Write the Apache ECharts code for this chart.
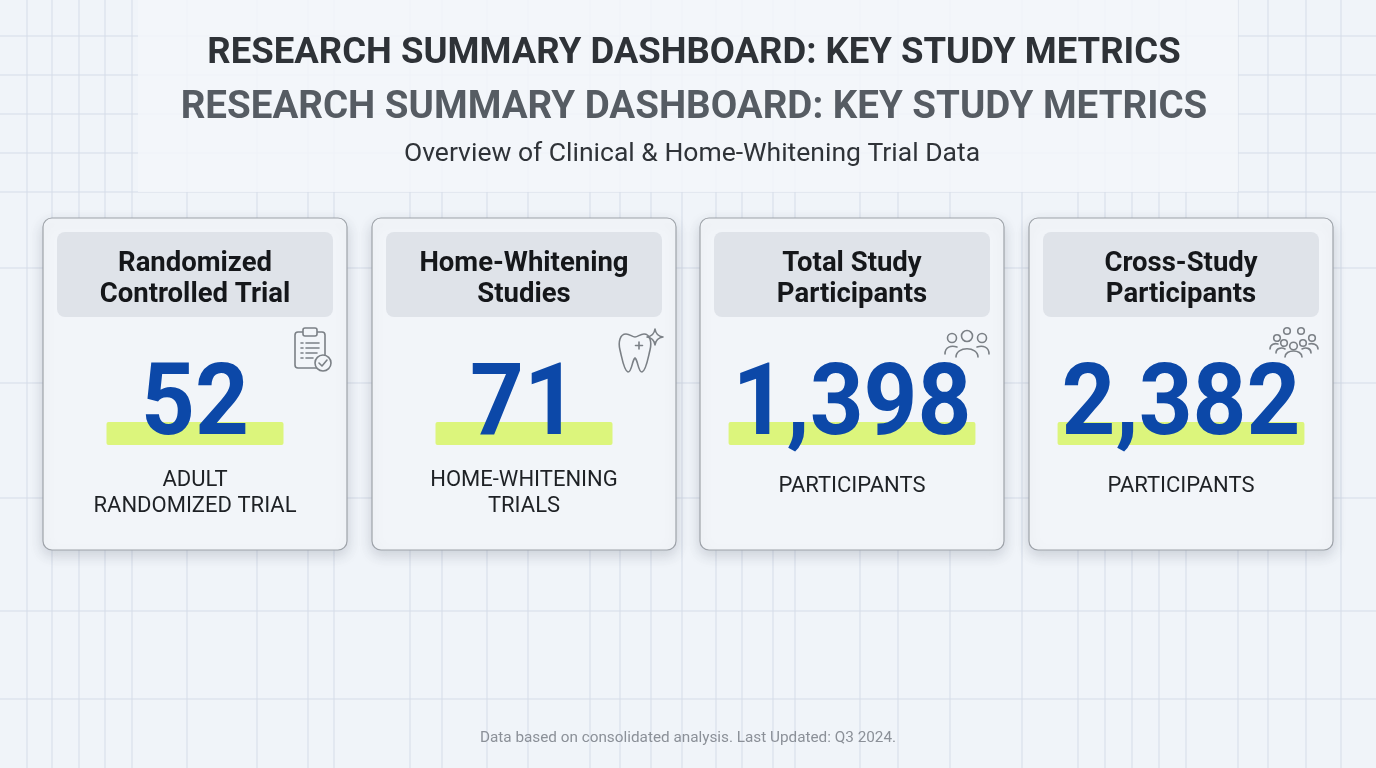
<!DOCTYPE html>
<html>
<head>
<meta charset="utf-8">
<title>Research Summary Dashboard</title>
<script src="https://cdn.jsdelivr.net/npm/echarts@6/dist/echarts.min.js"></script>
<style>
  html, body { margin: 0; padding: 0; background: #f0f4f9; }
  #chart { width: 1376px; height: 768px; }
</style>
</head>
<body>
<div id="chart"></div>
<script>
// data
const cardTitles = ['Randomized\nControlled Trial', 'Home-Whitening\nStudies', 'Total Study\nParticipants', 'Cross-Study\nParticipants']
const cardValues = [52, 71, 1398, 2382]
const cardLabels = ['ADULT\nRANDOMIZED TRIAL', 'HOME-WHITENING\nTRIALS', 'PARTICIPANTS', 'PARTICIPANTS']
const cardIcons = ['clipboard', 'tooth', 'people', 'crowd']

const titleText = 'RESEARCH SUMMARY DASHBOARD: KEY STUDY METRICS'
const subtitleText = 'Overview of Clinical & Home-Whitening Trial Data'
const footerText = 'Data based on consolidated analysis. Last Updated: Q3 2024.'

// background grid (irregular, like the reference)
const gridX = [27, 52, 79, 105, 132, 187, 257, 308, 334, 410, 442, 487, 528, 590, 620, 651, 682, 716, 742, 773, 795, 860, 898, 950, 1022, 1078, 1105, 1132, 1159, 1186, 1238, 1268, 1306, 1341]
const gridY = [36, 75, 114, 153, 192, 268, 383, 498, 611, 699]

const FONT = 'Roboto, "Noto Sans", sans-serif'
const CARD_W = 304, CARD_H = 332, CARD_Y = 218
const cardX = [43, 372, 700, 1029]

const measure = (function () {
    const ctx = document.createElement('canvas').getContext('2d')
    return function (text, font) {
        ctx.font = font
        return ctx.measureText(text).width
    }
})()

// tiny svg-like path shape (absolute M L C Q Z only) for the icons
echarts.graphic.registerShape('iconPath', echarts.graphic.extendShape({
    shape: { d: '' },
    buildPath: function (ctx, shape) {
        const tok = shape.d.match(/[MLCQZ]|-?[\d.]+/g) || []
        let i = 0, cmd = ''
        const n = () => parseFloat(tok[i++])
        while (i < tok.length) {
            if (/[MLCQZ]/.test(tok[i])) cmd = tok[i++]
            if (cmd === 'M') { ctx.moveTo(n(), n()); cmd = 'L' }
            else if (cmd === 'L') ctx.lineTo(n(), n())
            else if (cmd === 'C') ctx.bezierCurveTo(n(), n(), n(), n(), n(), n())
            else if (cmd === 'Q') ctx.quadraticCurveTo(n(), n(), n(), n())
            else if (cmd === 'Z') ctx.closePath()
        }
    }
}))

const iconStyle = { stroke: '#7b8086', fill: null, lineWidth: 1.6, lineCap: 'round', lineJoin: 'round' }

function iconElements(name, ox, oy) {
    const els = []
    const p = (d, extra) => els.push({ type: 'iconPath', x: ox, y: oy, shape: { d: d }, style: Object.assign({}, iconStyle, extra || {}) })
    const c = (cx, cy, r, extra) => els.push({ type: 'circle', x: ox, y: oy, shape: { cx: cx, cy: cy, r: r }, style: Object.assign({}, iconStyle, extra || {}) })
    if (name === 'clipboard') {
        els.push({ type: 'rect', x: ox, y: oy, shape: { x: 2, y: 6, width: 30, height: 36, r: 3 }, style: Object.assign({}, iconStyle) })
        els.push({ type: 'rect', x: ox, y: oy, shape: { x: 10, y: 2, width: 14, height: 8, r: 2 }, style: Object.assign({}, iconStyle, { fill: '#f2f5f9' }) })
        p('M8,17 L10,17 M13,17 L26,17 M8,22 L10,22 M13,22 L26,22 M8,27 L10,27 M13,27 L24,27 M8,32 L10,32 M13,32 L20,32')
        c(30, 37, 8, { fill: '#f2f5f9' })
        p('M26,37 L29,40 L34,34')
    } else if (name === 'tooth') {
        p('M4,8 C-2,8 -4,16 -2,24 C0,32 2,45 6,46 C10,46 10,34 13,32 C16,34 16,46 20,46 C24,45 26,32 28,24 C30,16 28,8 22,8 C18,8 16,11 13,11 C10,11 8,8 4,8 Z')
        p('M33,3 Q34,10 41,11 Q34,12 33,19 Q32,12 25,11 Q32,10 33,3 Z')
        p('M17,16 L17,23 M13.5,19.5 L20.5,19.5')
    } else if (name === 'people') {
        c(17, 10, 5.5)
        c(2, 12, 4.5)
        c(32, 12, 4.5)
        p('M6,31 C6,20 28,20 28,31')
        p('M-5,28 C-5,21 1,19 7,21')
        p('M27,21 C33,19 39,21 39,28')
    } else if (name === 'crowd') {
        c(8, 5, 3.3); c(22, 5, 3.3)
        c(-2, 12, 3.3); c(33, 12, 3.3)
        c(5, 17, 3.3); c(24, 17, 3.3)
        c(14.5, 20, 3.8)
        p('M6,31 C6,23 23,23 23,31')
        p('M-3,27 C-3,22 3,21 6,23')
        p('M23,23 C27,21 32,22 32,27')
        p('M-9,23 C-9,18 -4,17 -1,18')
        p('M30,18 C33,17 39,18 39,23')
    }
    return els
}

const graphics = []

// grid lines
gridX.forEach(x => graphics.push({ type: 'line', shape: { x1: x, y1: 0, x2: x, y2: 768 }, style: { stroke: '#d5dce8', lineWidth: 1 }, silent: true }))
gridY.forEach(y => graphics.push({ type: 'line', shape: { x1: 0, y1: y, x2: 1376, y2: y }, style: { stroke: '#d5dce8', lineWidth: 1 }, silent: true }))

// header panel
graphics.push({ type: 'rect', shape: { x: 138, y: 0, width: 1100, height: 192 }, style: { fill: '#f3f6fa', opacity: 0.85 }, silent: true })

graphics.push({ type: 'text', x: 694, y: 54, style: { text: titleText, font: 'bold 36.5px ' + FONT, fill: '#2e3237', align: 'center', verticalAlign: 'middle' } })
graphics.push({ type: 'text', x: 694, y: 108, style: { text: titleText, font: 'bold 38.5px ' + FONT, fill: '#565c63', align: 'center', verticalAlign: 'middle' } })
graphics.push({ type: 'text', x: 692, y: 154, style: { text: subtitleText, font: '26.5px ' + FONT, fill: '#2f3338', align: 'center', verticalAlign: 'middle' } })

// cards
cardValues.forEach((v, i) => {
    const x = cardX[i], cx = x + CARD_W / 2
    const valueText = v.toLocaleString('en-US')
    const numFont = 'bold 94px ' + FONT
    const barW = Math.max(177, measure(valueText, numFont) + 8)
    const oneLine = cardLabels[i].indexOf('\n') < 0

    graphics.push({ type: 'rect', shape: { x: x, y: CARD_Y, width: CARD_W, height: CARD_H, r: 9 },
        style: { fill: '#f2f5f9', stroke: '#9ea3a9', lineWidth: 1.2, shadowBlur: 14, shadowOffsetY: 5, shadowColor: 'rgba(40,50,70,0.18)' } })
    graphics.push({ type: 'rect', shape: { x: x + 14, y: CARD_Y + 14, width: CARD_W - 28, height: 85, r: 8 },
        style: { fill: '#dfe3e9' } })
    graphics.push({ type: 'text', x: cx, y: CARD_Y + 62, style: { text: cardTitles[i], font: 'bold 27.5px ' + FONT, lineHeight: 31, fill: '#15171a', align: 'center', verticalAlign: 'middle' } })

    iconElements(cardIcons[i], x + 250, 326).forEach(e => graphics.push(e))

    graphics.push({ type: 'rect', shape: { x: cx - barW / 2, y: 422, width: barW, height: 23, r: 2 },
        style: { fill: '#dcf57c' } })
    graphics.push({ type: 'text', x: cx, y: 409, scaleY: 1.07, originX: cx, originY: 0,
        style: { text: valueText, font: numFont, fill: '#0c48a8', align: 'center', verticalAlign: 'middle' } })
    graphics.push({ type: 'text', x: cx, y: oneLine ? 486 : 493, style: { text: cardLabels[i], font: '22px ' + FONT, lineHeight: 26, fill: '#1e2125', align: 'center', verticalAlign: 'middle' } })
})

graphics.push({ type: 'text', x: 688, y: 738, style: { text: footerText, font: '15.3px ' + FONT, fill: '#8b9098', align: 'center', verticalAlign: 'middle' } })

let option = {
    backgroundColor: '#f0f4f9',
    graphic: { elements: graphics }
}

let mychart = echarts.init(document.getElementById('chart'))
mychart.setOption(option)
</script>
</body>
</html>
